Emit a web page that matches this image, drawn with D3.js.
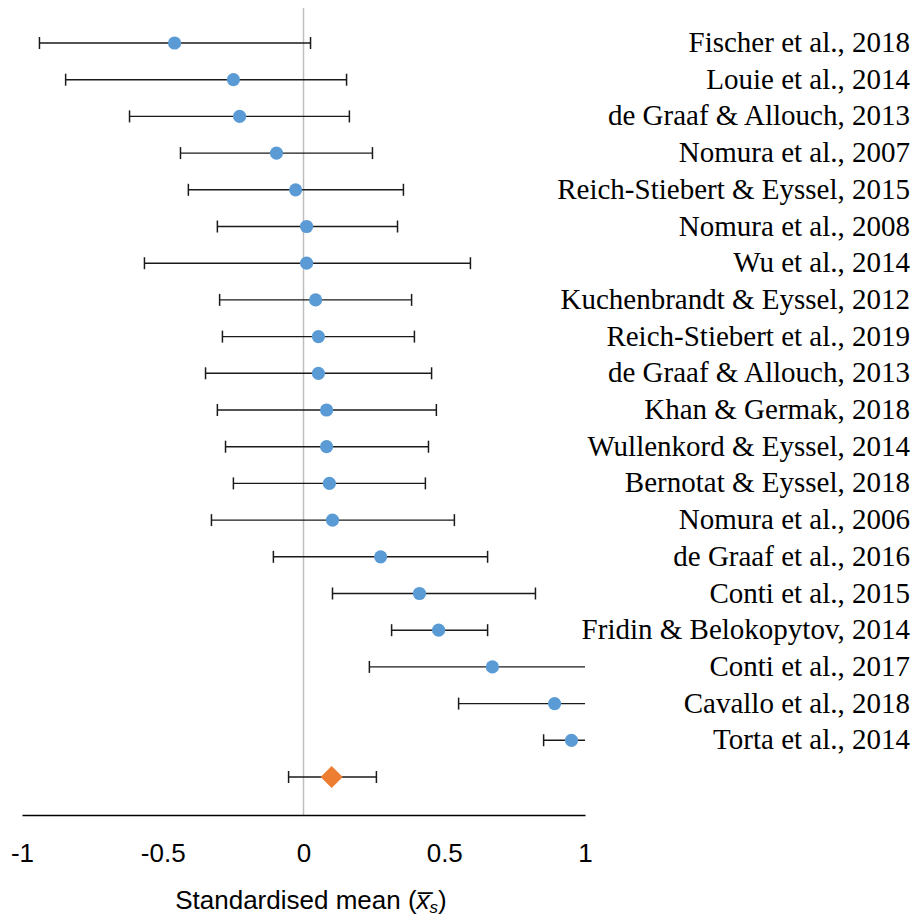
<!DOCTYPE html>
<html>
<head>
<meta charset="utf-8">
<script src="https://cdn.jsdelivr.net/npm/d3@7"></script>
<style>
  html, body { margin: 0; padding: 0; background: #fff; }
  svg { display: block; }
</style>
</head>
<body>
<svg id="chart" width="917" height="919"></svg>
<script>
// Studies, top to bottom
const studies = [
  "Fischer et al., 2018",
  "Louie et al., 2014",
  "de Graaf & Allouch, 2013",
  "Nomura et al., 2007",
  "Reich-Stiebert & Eyssel, 2015",
  "Nomura et al., 2008",
  "Wu et al., 2014",
  "Kuchenbrandt & Eyssel, 2012",
  "Reich-Stiebert et al., 2019",
  "de Graaf & Allouch, 2013",
  "Khan & Germak, 2018",
  "Wullenkord & Eyssel, 2014",
  "Bernotat & Eyssel, 2018",
  "Nomura et al., 2006",
  "de Graaf et al., 2016",
  "Conti et al., 2015",
  "Fridin & Belokopytov, 2014",
  "Conti et al., 2017",
  "Cavallo et al., 2018",
  "Torta et al., 2014"
];
// Standardised means and confidence bounds per study
const means = [-0.458, -0.249, -0.227, -0.096, -0.028, 0.011, 0.011, 0.043, 0.053, 0.053,
               0.082, 0.082, 0.092, 0.103, 0.274, 0.412, 0.480, 0.671, 0.892, 0.952];
const lower = [-0.938, -0.845, -0.618, -0.437, -0.409, -0.306, -0.565, -0.298, -0.288, -0.348,
               -0.306, -0.277, -0.249, -0.327, -0.107, 0.103, 0.313, 0.234, 0.551, 0.853];
const upper = [0.025, 0.153, 0.163, 0.245, 0.355, 0.334, 0.593, 0.384, 0.394, 0.455,
               0.472, 0.444, 0.433, 0.536, 0.654, 0.824, 0.654, 1.108, 1.233, 1.050];
// Pooled estimate
const pooledMean = 0.100;
const pooledLower = -0.053;
const pooledUpper = 0.259;
// Axis ticks
const tickValues = [-1, -0.5, 0, 0.5, 1];
const tickLabels = ["-1", "-0.5", "0", "0.5", "1"];

const svg = d3.select("#chart");
const left = 22, right = 585, axisY = 815, topY = 8;

const x = d3.scaleLinear().domain([-1, 1]).range([left, right]);
const rowIds = d3.range(studies.length + 1);
const y = d3.scalePoint().domain(rowIds).range([43, 777]);

const rows = studies.map((s, i) => ({ name: s, m: means[i], lo: lower[i], hi: upper[i], id: i }));

svg.append("defs").append("clipPath").attr("id", "plotClip")
  .append("rect").attr("x", left - 5).attr("y", 0).attr("width", right - left + 5).attr("height", axisY);

// zero reference line
svg.append("line")
  .attr("x1", x(0)).attr("x2", x(0))
  .attr("y1", topY).attr("y2", axisY)
  .attr("stroke", "#bfbfbf").attr("stroke-width", 1.5);

const plot = svg.append("g").attr("clip-path", "url(#plotClip)");
const capH = 6;
const whiskerColor = "#1a1a1a";

function drawInterval(g, lo, hi, yy) {
  g.append("line")
    .attr("x1", x(lo)).attr("x2", x(hi))
    .attr("y1", yy).attr("y2", yy)
    .attr("stroke", whiskerColor).attr("stroke-width", 1.4);
  [lo, hi].forEach(v => {
    g.append("line")
      .attr("x1", x(v)).attr("x2", x(v))
      .attr("y1", yy - capH).attr("y2", yy + capH)
      .attr("stroke", whiskerColor).attr("stroke-width", 1.5);
  });
}

rows.forEach(r => drawInterval(plot, r.lo, r.hi, y(r.id)));

plot.selectAll("circle.pt").data(rows).enter().append("circle")
  .attr("class", "pt")
  .attr("cx", d => x(d.m)).attr("cy", d => y(d.id)).attr("r", 6.6)
  .attr("fill", "#5b9bd5");

// pooled estimate
const py = y(studies.length);
drawInterval(plot, pooledLower, pooledUpper, py);
plot.append("path")
  .attr("d", d3.symbol().type(d3.symbolDiamond2 || d3.symbolSquare).size(312)())
  .attr("transform", `translate(${x(pooledMean)},${py}) rotate(${d3.symbolDiamond2 ? 0 : 45})`)
  .attr("fill", "#ed7d31");

// study labels
svg.selectAll("text.study").data(rows).enter().append("text")
  .attr("class", "study")
  .attr("x", 910).attr("y", d => y(d.id) + 9)
  .attr("text-anchor", "end")
  .attr("font-family", "'Liberation Serif', 'Times New Roman', serif")
  .attr("font-size", 29)
  .attr("fill", "#000")
  .text(d => d.name);

// x axis
const axis = d3.axisBottom(x).tickValues(tickValues)
  .tickFormat((d, i) => tickLabels[i]).tickSize(0).tickPadding(29);
const ax = svg.append("g").attr("transform", `translate(0,${axisY})`).call(axis);
ax.select(".domain").attr("stroke", "#000").attr("stroke-width", 1.3);
ax.selectAll("text")
  .attr("font-family", "'Liberation Sans', Arial, sans-serif")
  .attr("font-size", 26).attr("fill", "#000");

// axis title
const title = svg.append("text")
  .attr("x", 311).attr("y", 909)
  .attr("text-anchor", "middle")
  .attr("font-family", "'Liberation Sans', Arial, sans-serif")
  .attr("font-size", 26).attr("fill", "#000");
title.append("tspan").text("Standardised mean (");
title.append("tspan").attr("font-style", "italic").text("x\u0305");
title.append("tspan").attr("font-style", "italic").attr("font-size", 17).attr("dy", 4).text("s");
title.append("tspan").attr("dy", -4).text(")");
</script>
</body>
</html>
